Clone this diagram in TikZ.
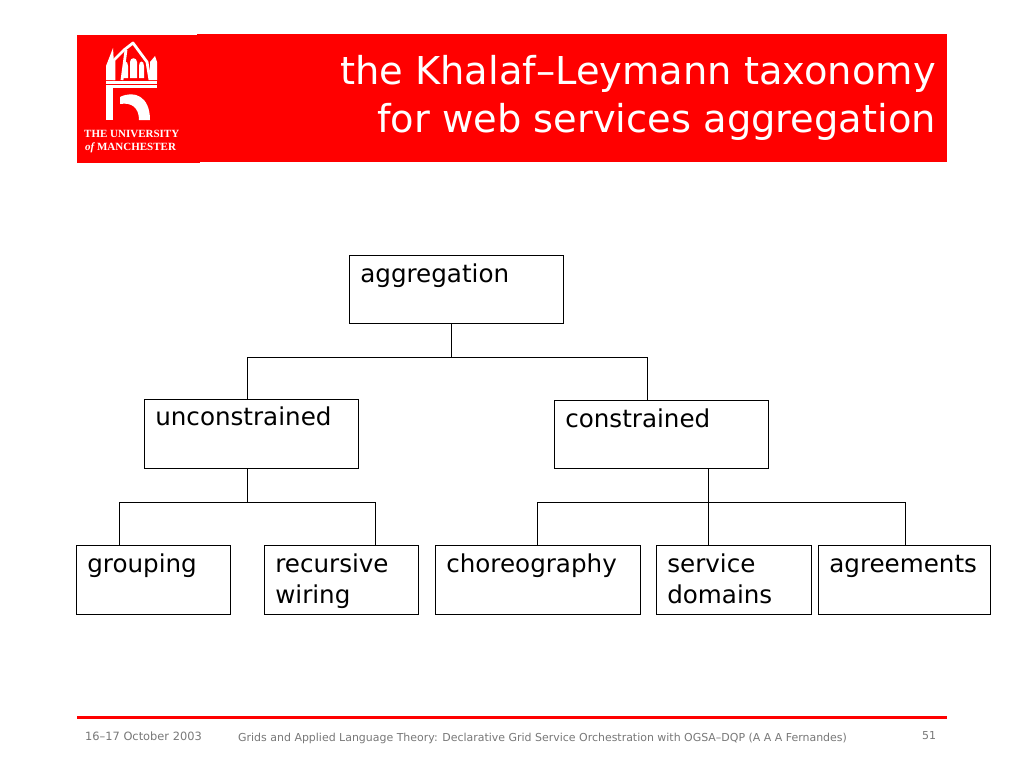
\documentclass[tikz,border=0pt]{standalone}
\usepackage{fontspec}
\setmainfont{DejaVu Sans}
\newfontfamily\logofont{Liberation Serif}
\definecolor{hdr}{RGB}{255,0,0}
\definecolor{foot}{RGB}{120,120,120}
\tikzset{
  taxbox/.style={draw=black,line width=0.8pt,fill=white,anchor=north west,inner sep=0pt,outer sep=0pt},
  wire/.style={draw=black,line width=0.8pt},
  foottext/.style={font=\fontsize{10.96}{12}\selectfont,text=foot,inner sep=0pt},
  logotext/.style={font=\logofont\bfseries\fontsize{11}{11}\selectfont,text=white,inner sep=0pt},
  logoline/.style={draw=white,line width=2.8pt,line join=round}
}
\newcommand{\taxnode}[7][0]{%
  \node[taxbox,minimum width=#5pt,minimum height=#6pt] (#2) at (#3,#4) {};
  \node[anchor=north west,inner sep=0pt,align=left,font=\fontsize{24.6}{31}\selectfont] (#2text) at (#3+10.5,#4+3+#1) {\rule{0pt}{24pt}#7};
}
\begin{document}
\begin{tikzpicture}[x=1pt,y=-1pt]
\useasboundingbox (0,0) rectangle (1024,768);
\fill[white] (0,0) rectangle (1024,768);
% header
\fill[hdr] (197,34) rectangle (947,162);
\fill[hdr] (77,35) rectangle (200,163);
\node[anchor=north east,inner sep=0pt,align=right,text=white,font=\fontsize{38.4}{48}\selectfont] (title) at (936,55) {the Khalaf–Leymann taxonomy\\for web services aggregation};
% logo
\draw[logoline] (114,80) -- (114,60) -- (124,50) -- (133,43) -- (147,62) -- (150,80);
\draw[logoline] (126,50) -- (122,80);
\fill[white] (106,66) -- (113,48) -- (115,80) -- (106,80) -- cycle;
\fill[white] (150,62) -- (155,56) -- (157,62) -- (157,80) -- (150,80) -- cycle;
\fill[white] (123,78) -- (123,66) .. controls (123,60) and (128,60) .. (128,66) -- (128,78) -- cycle;
\fill[white] (130,78) -- (130,62) .. controls (130,57) and (137,57) .. (137,62) -- (137,78) -- cycle;
\fill[white] (139,78) -- (139,66) .. controls (139,60) and (144,60) .. (144,66) -- (144,78) -- cycle;
\fill[white] (106,81) rectangle (157,83.5);
\fill[white] (106,85) rectangle (157,88);
\fill[white] (106,88) rectangle (113,120);
\fill[white] (120,97) .. controls (134,90) and (150,96) .. (150,120) -- (139,120) .. controls (139,108) and (132,102) .. (120,104) -- cycle;
\node[logotext,anchor=west] (logoa) at (84,134) {THE UNIVERSITY};
\node[logotext,anchor=west] (logob) at (85,148) {\itshape of \upshape MANCHESTER};
% boxes
\taxnode{agg}{349.6}{255}{213.6}{68}{aggregation}
\taxnode[-1]{unc}{144.6}{399.6}{213.6}{68.4}{unconstrained}
\taxnode{con}{554.6}{400}{213.6}{68}{constrained}
\taxnode{gro}{76.6}{545}{153.6}{69}{grouping}
\taxnode{rec}{264.6}{545}{153.6}{69}{recursive\\wiring}
\taxnode{cho}{435.6}{545}{204.6}{69}{choreography}
\taxnode{ser}{656.6}{545}{154.6}{69}{service\\domains}
\taxnode{agr}{818.6}{545}{171.6}{69}{agreements}
% connectors
\coordinate (j1) at (451.6,357.4);
\coordinate (j2) at (247.6,502.6);
\coordinate (j3) at (708,502.6);
\draw[wire] (agg.south -| j1) -- (j1);
\draw[wire] (unc.north -| 247.6,0) -- (247.6,357.4) -- (j1) -- (647.6,357.4) -- (con.north -| 647.6,0);
\draw[wire] (unc.south -| j2) -- (j2);
\draw[wire] (gro.north -| 119.6,0) -- (119.6,502.6) -- (j2) -- (375.4,502.6) -- (rec.north -| 375.4,0);
\draw[wire] (con.south -| j3) -- (ser.north -| j3);
\draw[wire] (cho.north -| 537,0) -- (537,502.6) -- (905,502.6) -- (agr.north -| 905,0);
% footer
\draw[draw=hdr,line width=3pt] (77,717) -- (947,717);
\node[foottext,anchor=west,font=\fontsize{11.4}{12}\selectfont] (date) at (85,736) {16–17 October 2003};
\node[foottext,anchor=west] (talk) at (238,738) {Grids and Applied Language Theory: Declarative Grid Service Orchestration with OGSA–DQP (A A A Fernandes)};
\node[foottext,anchor=west] (page) at (922,736) {51};
\end{tikzpicture}
\end{document}
